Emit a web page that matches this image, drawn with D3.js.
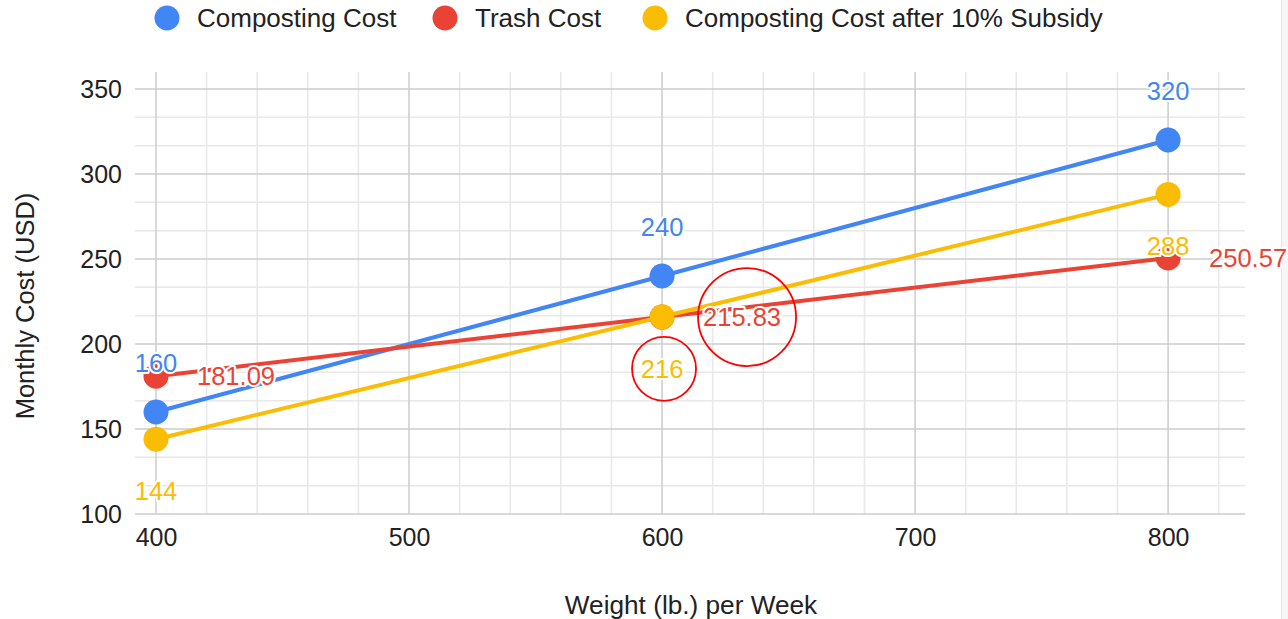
<!DOCTYPE html>
<html>
<head>
<meta charset="utf-8">
<script src="https://cdn.jsdelivr.net/npm/d3@7"></script>
<style>
  html, body { margin: 0; padding: 0; background: #fff; }
  svg { display: block; font-family: "Liberation Sans", Arial, sans-serif; }
</style>
</head>
<body>
<svg id="chart" width="1288" height="619"></svg>
<script>
// ---- data ----
const weights = [400, 600, 800];
const compostingCost = [160, 240, 320];
const trashCost = [181.09, 215.83, 250.57];
const subsidyCost = [144, 216, 288];
const seriesNames = ["Composting Cost", "Trash Cost", "Composting Cost after 10% Subsidy"];
const seriesColors = ["#4285F4", "#EA4335", "#FBBC04"];
const labelPlacement = [
  ["above", "above", "above"],
  ["right", "right", "right"],
  ["below", "below", "below"]
];
const xTicks = [400, 500, 600, 700, 800];
const yTicks = [100, 150, 200, 250, 300, 350];
const xTitle = "Weight (lb.) per Week";
const yTitle = "Monthly Cost (USD)";
const highlighted = [[2, 1], [1, 1]]; // [series, point] labels circled in red

const series = [compostingCost, trashCost, subsidyCost].map((vals, i) => ({
  name: seriesNames[i], color: seriesColors[i],
  points: vals.map((v, j) => ({ x: weights[j], y: v, pos: labelPlacement[i][j] }))
}));

// ---- layout ----
const svg = d3.select("#chart");
const plot = { left: 135, right: 1245, top: 72, bottom: 514 };
const x = d3.scaleLinear().domain([391.7, 830.4]).range([plot.left, plot.right]);
const y = d3.scaleLinear().domain([100, 350]).range([514, 89]);
const yTop = y.invert(plot.top);

// right frame edge
svg.append("rect").attr("x", 1281).attr("y", 0).attr("width", 7).attr("height", 619).attr("fill", "#f6f6f6");
svg.append("line").attr("x1", 1281.5).attr("x2", 1281.5).attr("y1", 0).attr("y2", 619).attr("stroke", "#e6e6e6");

// ---- grid ----
const grid = svg.append("g");
const minorX = d3.range(400, 830, 20).filter(v => v % 100 !== 0);
const minorY = [];
for (let i = 0; i < yTicks.length; i++) {
  for (let k = 1; k < 3; k++) {
    const v = yTicks[i] + k * 50 / 3;
    if (v < yTop) minorY.push(v);
  }
}
grid.selectAll(".mx").data(minorX).join("line")
  .attr("x1", d => x(d)).attr("x2", d => x(d))
  .attr("y1", plot.top).attr("y2", plot.bottom)
  .attr("stroke", "#e8e8e8").attr("stroke-width", 1.5);
grid.selectAll(".my").data(minorY).join("line")
  .attr("x1", plot.left).attr("x2", plot.right)
  .attr("y1", d => y(d)).attr("y2", d => y(d))
  .attr("stroke", "#e8e8e8").attr("stroke-width", 1.5);
grid.selectAll(".Mx").data(xTicks).join("line")
  .attr("x1", d => x(d)).attr("x2", d => x(d))
  .attr("y1", plot.top).attr("y2", plot.bottom)
  .attr("stroke", "#cccccc").attr("stroke-width", 1.5);
grid.selectAll(".My").data(yTicks).join("line")
  .attr("x1", plot.left).attr("x2", plot.right)
  .attr("y1", d => y(d)).attr("y2", d => y(d))
  .attr("stroke", "#cccccc").attr("stroke-width", 1.5);

// ---- axes (labels via d3 axes, no domain / tick lines) ----
const xAxis = svg.append("g").attr("transform", `translate(0,${plot.bottom})`)
  .call(d3.axisBottom(x).tickValues(xTicks).tickSize(0).tickPadding(14));
const yAxis = svg.append("g").attr("transform", `translate(${plot.left},0)`)
  .call(d3.axisLeft(y).tickValues(yTicks).tickSize(0).tickPadding(13));
[xAxis, yAxis].forEach(a => {
  a.select(".domain").remove();
  a.selectAll("text").attr("font-size", 25).attr("fill", "#222")
    .attr("font-family", '"Liberation Sans", Arial, sans-serif');
});

svg.append("text").attr("x", 691).attr("y", 614).attr("text-anchor", "middle")
  .attr("font-size", 26.2).attr("fill", "#222").text(xTitle);
svg.append("text").attr("transform", "translate(34,306) rotate(-90)").attr("text-anchor", "middle")
  .attr("font-size", 25.5).attr("fill", "#222").text(yTitle);

// ---- lines ----
const line = d3.line().x(d => x(d.x)).y(d => y(d.y));
const lines = svg.append("g");
series.forEach(s => {
  lines.append("path").datum(s.points).attr("d", line)
    .attr("fill", "none").attr("stroke", s.color).attr("stroke-width", 4).attr("stroke-linecap", "round");
});
// ---- points ----
series.forEach(s => {
  svg.append("g").selectAll("circle").data(s.points).join("circle")
    .attr("cx", d => x(d.x)).attr("cy", d => y(d.y)).attr("r", 12.5).attr("fill", s.color);
});

// ---- data labels ----
const labelPos = (d) => {
  if (d.pos === "above") return { lx: x(d.x), ly: y(d.y) - 49, anchor: "middle" };
  if (d.pos === "below") return { lx: x(d.x), ly: y(d.y) + 52, anchor: "middle" };
  return { lx: x(d.x) + 41, ly: y(d.y), anchor: "start" };
};
const labels = svg.append("g");
series.forEach((s, i) => {
  s.points.forEach((d, j) => {
    const p = labelPos(d);
    labels.append("text")
      .attr("x", p.lx).attr("y", p.ly).attr("dy", "0.35em")
      .attr("text-anchor", p.anchor).attr("font-size", 25.5)
      .attr("fill", s.color)
      .attr("stroke", "#fff").attr("stroke-width", 4).attr("stroke-linejoin", "round")
      .attr("paint-order", "stroke")
      .text(d3.format("")(d.y));
  });
});

// ---- red annotation circles ----
const annRadius = [32, 49];
highlighted.forEach(([si, pj], k) => {
  const d = series[si].points[pj];
  const p = labelPos(d);
  let cx = p.lx, cy = p.ly;
  if (p.anchor === "start") cx = p.lx + 44;
  svg.append("circle").attr("cx", cx + (k === 0 ? 2 : 0)).attr("cy", cy)
    .attr("r", annRadius[k]).attr("fill", "none").attr("stroke", "#ff0000").attr("stroke-width", 1.8);
});

// ---- legend ----
const legendX = [167, 445, 655];
const legend = svg.append("g");
series.forEach((s, i) => {
  legend.append("circle").attr("cx", legendX[i]).attr("cy", 18).attr("r", 12.5).attr("fill", s.color);
  legend.append("text").attr("x", legendX[i] + 30).attr("y", 18).attr("dy", "0.35em")
    .attr("font-size", 26).attr("fill", "#222").text(s.name);
});
</script>
</body>
</html>
